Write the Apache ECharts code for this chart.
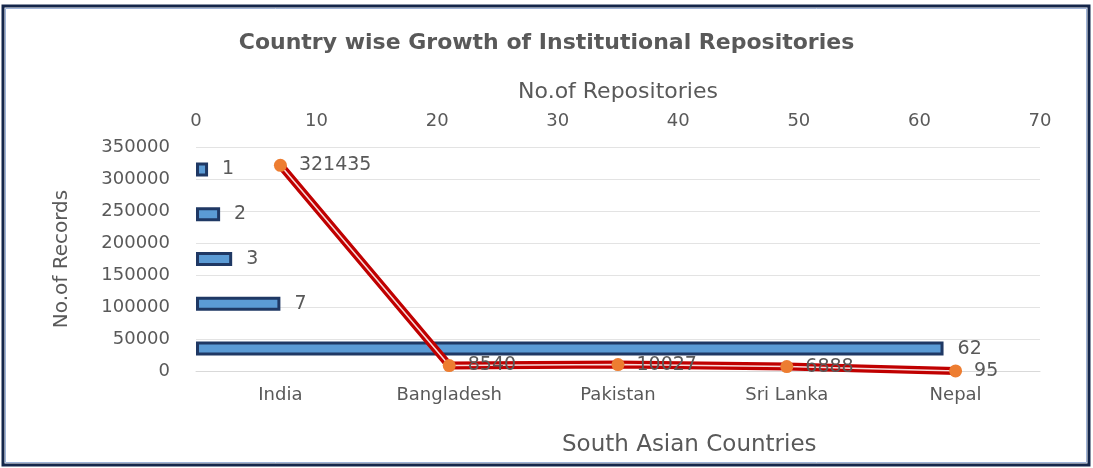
<!DOCTYPE html>
<html><head><meta charset="utf-8">
<script src="https://cdn.jsdelivr.net/npm/echarts@6/dist/echarts.min.js"></script>
<style>html,body{margin:0;padding:0;background:#fff}#c{width:1093px;height:468px}</style>
</head><body><div id="c"></div>
<script>
const countries = ['India', 'Bangladesh', 'Pakistan', 'Sri Lanka', 'Nepal'];
const records = [321435, 8540, 10027, 6888, 95];
const barCats = ['India', 'Bangladesh', 'Pakistan', 'Sri Lanka', 'Nepal'];
const repositories = [62, 7, 3, 2, 1];
const titleText = 'Country wise Growth of Institutional Repositories';

const grey = '#595959';
const font = 'DejaVu Sans';
const chart = echarts.init(document.getElementById('c'));
chart.setOption({
  animation: false,
  textStyle: { fontFamily: font },
  title: [
    { text: titleText, left: 'center', top: 27, textStyle: { fontFamily: font, fontWeight: 'bold', fontSize: 22, color: grey } },
    { text: 'South Asian Countries', left: 557, top: 429, textStyle: { fontFamily: font, fontWeight: 'normal', fontSize: 23, color: grey } }
  ],
  graphic: [
    { type: 'rect', shape: { x: 3, y: 6, width: 1086, height: 459 }, style: { fill: 'none', stroke: '#14264a', lineWidth: 3 }, silent: true },
    { type: 'rect', shape: { x: 5.5, y: 8.5, width: 1081, height: 454 }, style: { fill: 'none', stroke: '#9fb3d6', lineWidth: 1 }, silent: true }
  ],
  grid: { left: 196, right: 53, top: 147, bottom: 97 },
  xAxis: [
    { type: 'category', data: countries, position: 'bottom', boundaryGap: true,
      axisLine: { show: true, lineStyle: { color: '#d9d9d9' } }, axisTick: { show: false },
      axisLabel: { color: grey, fontSize: 18, margin: 15, fontFamily: font } },
    { type: 'value', position: 'top', min: 0, max: 70, interval: 10,
      name: 'No.of Repositories', nameLocation: 'middle', nameGap: 44,
      nameTextStyle: { color: grey, fontSize: 22, fontFamily: font },
      axisLine: { show: false }, axisTick: { show: false }, splitLine: { show: false },
      axisLabel: { color: grey, fontSize: 18, margin: 17, fontFamily: font } }
  ],
  yAxis: [
    { type: 'value', min: 0, max: 350000, interval: 50000,
      name: 'No.of Records', nameLocation: 'middle', nameGap: 124,
      nameTextStyle: { color: grey, fontSize: 20, fontFamily: font },
      axisLine: { show: false }, axisTick: { show: false },
      splitLine: { lineStyle: { color: '#e3e3e3' } },
      axisLabel: { color: grey, fontSize: 18, margin: 26, fontFamily: font, formatter: v => String(v) } },
    { type: 'category', data: barCats, show: false, boundaryGap: true }
  ],
  series: [
    { type: 'bar', xAxisIndex: 1, yAxisIndex: 1, data: repositories, barWidth: 14,
      itemStyle: { color: '#5b9bd5', borderColor: '#1f3864', borderWidth: 3 },
      label: { show: true, position: 'right', distance: 14, color: grey, fontSize: 19, fontFamily: font } },
    { type: 'line', xAxisIndex: 0, yAxisIndex: 0, data: records, showSymbol: false, symbol: 'none',
      lineStyle: { color: '#c00000', width: 8 }, z: 3 },
    { type: 'line', xAxisIndex: 0, yAxisIndex: 0, data: records, symbol: 'circle', symbolSize: 13,
      itemStyle: { color: '#ed7d31' },
      lineStyle: { color: '#f7dada', width: 1.5 }, z: 4,
      label: { show: true, position: 'right', distance: 12, color: grey, fontSize: 19, fontFamily: font } }
  ]
});
</script></body></html>
